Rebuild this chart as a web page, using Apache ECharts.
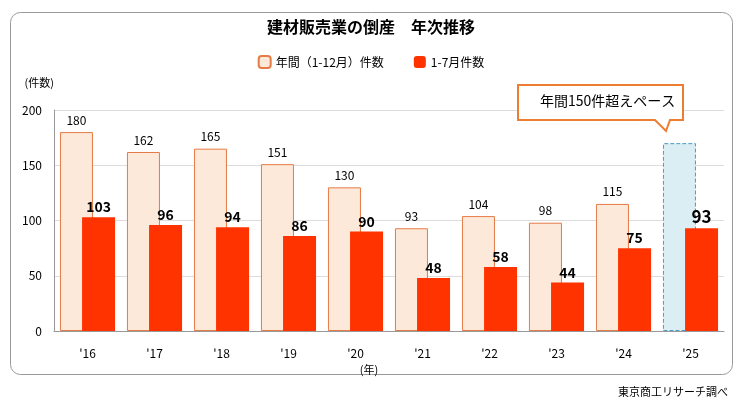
<!DOCTYPE html>
<html><head><meta charset="utf-8">
<script src="https://cdn.jsdelivr.net/npm/echarts@6/dist/echarts.min.js"></script>
<style>html,body{margin:0;padding:0;background:#fff}#c{width:742px;height:407px}</style>
</head><body><div id="c"></div>
<script>
var years = ["'16", "'17", "'18", "'19", "'20", "'21", "'22", "'23", "'24", "'25"];
var annual = [180, 162, 165, 151, 130, 93, 104, 98, 115, 170];
var janJul = [103, 96, 94, 86, 90, 48, 58, 44, 75, 93];

var chart = echarts.init(document.getElementById('c'));
var font = '"Noto Sans CJK JP", sans-serif';

var annualData = annual.map(function (v, i) {
  if (i === years.length - 1) {
    return { value: v, itemStyle: { color: '#DAEEF3', borderColor: '#4A9CC8', borderType: 'dashed', borderWidth: 1 }, label: { show: false } };
  }
  return v;
});
var redData = janJul.map(function (v, i) {
  if (i === years.length - 1) return { value: v, label: { fontSize: 17 } };
  return v;
});

chart.setOption({
  textStyle: { fontFamily: font },
  title: { text: '建材販売業の倒産　年次推移', left: 'center', top: 14, textStyle: { fontSize: 16, fontWeight: 'bold', color: '#000', fontFamily: font } },
  legend: { top: 50, left: 'center', itemWidth: 12, itemHeight: 12, itemGap: 30, textStyle: { fontSize: 12, color: '#000' } },
  grid: { left: 54, right: 18, top: 110, bottom: 76 },
  xAxis: {
    type: 'category', data: years, name: '(年)', nameLocation: 'middle', nameGap: 28,
    nameTextStyle: { fontSize: 11, color: '#000', padding: [0, 0, 0, -40] },
    axisLine: { lineStyle: { color: '#999' } }, axisTick: { show: false },
    axisLabel: { fontSize: 12, color: '#000', margin: 16 }
  },
  yAxis: {
    type: 'value', min: 0, max: 200, interval: 50,
    name: '(件数)', nameLocation: 'end', nameGap: 22, nameTextStyle: { fontSize: 11, color: '#000', align: 'right', padding: [0, 0, 0, 0] },
    axisLine: { show: true, lineStyle: { color: '#999' } },
    axisLabel: { fontSize: 12, color: '#000', margin: 12 },
    splitLine: { lineStyle: { color: '#ddd' } }
  },
  series: [
    { name: '年間（1-12月）件数', type: 'bar', data: annualData, barWidth: 33, barGap: '-33%',
      itemStyle: { color: '#FDE9D9', borderColor: '#E57B45', borderWidth: 1 },
      label: { show: true, position: 'top', fontSize: 12, color: '#000', distance: 6 } },
    { name: '1-7月件数', type: 'bar', data: redData, barWidth: 33,
      itemStyle: { color: '#FF3300' },
      label: { show: true, position: 'top', fontSize: 14, fontWeight: 'bold', color: '#000', distance: 3 } }
  ],
  graphic: [
    { type: 'rect', left: 8, top: 10, shape: { width: 722, height: 362, r: 10 }, style: { fill: 'none', stroke: '#999', lineWidth: 1 }, z: -1 },
    { type: 'polygon', shape: { points: [[518, 85], [683, 85], [683, 120], [670, 120], [666, 131], [655, 120], [518, 120]] },
      style: { fill: '#fff', stroke: '#ED7D31', lineWidth: 2 }, z: 10 },
    { type: 'text', left: 540, top: 94, style: { text: '年間150件超えペース', font: '14px ' + font, fill: '#000' }, z: 11 },
    { type: 'text', right: 14, top: 386, style: { text: '東京商工リサーチ調べ', font: '11px ' + font, fill: '#000' } }
  ]
});
</script></body></html>
